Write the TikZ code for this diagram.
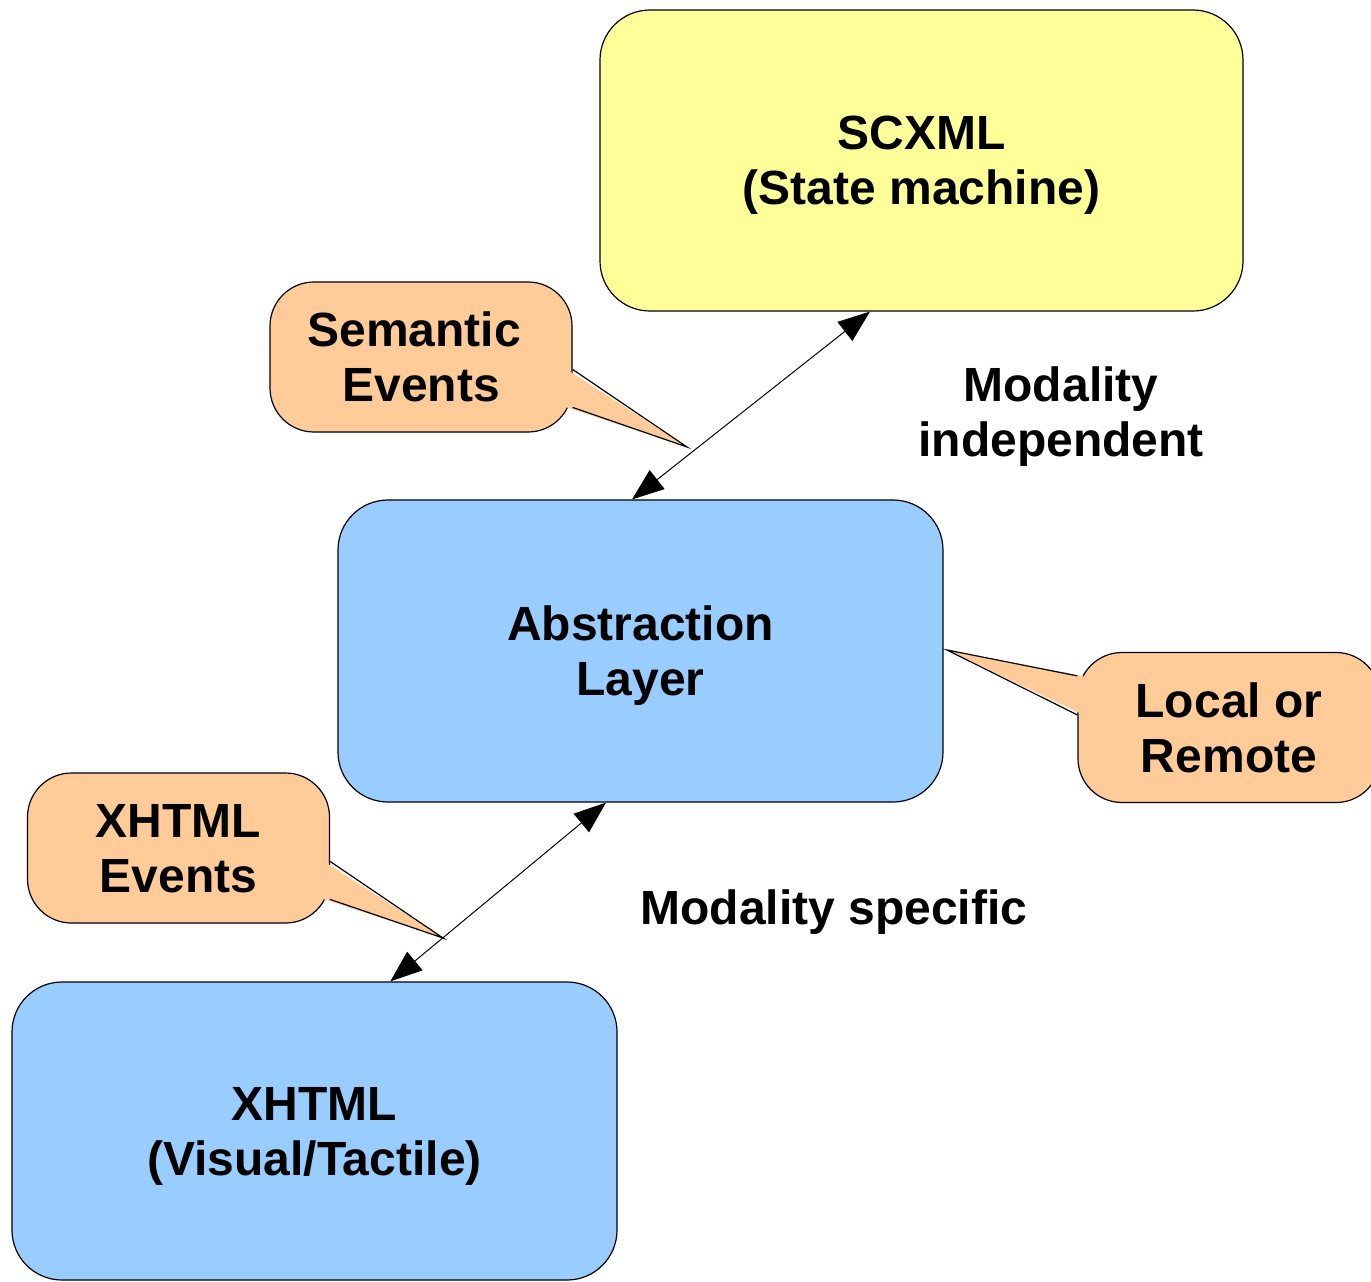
\documentclass[tikz,border=0pt]{standalone}
\usepackage{fontspec}
\setmainfont{Liberation Sans}
\usetikzlibrary{arrows.meta,calc}
\definecolor{boxyellow}{HTML}{FFFF99}
\definecolor{boxblue}{HTML}{99CCFF}
\definecolor{calloutfill}{HTML}{FFCC99}
\begin{document}
\begin{tikzpicture}[x=0.5pt,y=-0.5pt,
  lbl/.style={font=\fontsize{24}{27.5}\selectfont\bfseries, align=center, text depth=0pt},
  bigbox/.style={lbl, draw=black, line width=0.6pt, rounded corners=25pt, inner sep=0pt},
  callbox/.style={lbl, draw=black, line width=0.6pt, rounded corners=22pt, fill=calloutfill, inner sep=0pt, minimum width=151pt, minimum height=75pt},
  tailline/.style={draw=black, line width=0.6pt, line join=miter},
  link/.style={{Triangle[length=16pt,width=12pt]}-{Triangle[length=16pt,width=12pt]}, line width=0.5pt}]
\useasboundingbox (0,0) rectangle (1371,1281);
\begin{scope}
\clip (0,0) rectangle (1371,1281);
% main boxes
\node[bigbox, fill=boxyellow, minimum width=321.5pt, minimum height=150.5pt] (scxml) at (921.5,160.5) {SCXML\\(State machine)};
\node[bigbox, fill=boxblue, minimum width=302.5pt, minimum height=151pt] (abs) at (640.5,651) {Abstraction\\Layer};
\node[bigbox, fill=boxblue, minimum width=302.5pt, minimum height=149pt] (xhtml) at (314.5,1131) {XHTML\\(Visual/Tactile)};
% callouts
\node[callbox] (sem) at (421,357) {Semantic\hspace*{6.7pt}\\Events};
\node[callbox] (loc) at (1229,727.5) {Local or\\Remote};
\node[callbox] (xev) at (178.5,848) {XHTML\\Events};
% callout tails
\coordinate (semtip) at (687,447);
\fill[calloutfill] ($(sem.north east)+(-6,88)$) -- (semtip) -- ($(sem.north east)+(-6,126)$) -- cycle;
\draw[tailline] ($(sem.north east)+(0,88)$) -- (semtip) -- ($(sem.north east)+(0,126)$);
\coordinate (loctip) at (947,650);
\fill[calloutfill] ($(loc.north west)+(6,24)$) -- (loctip) -- ($(loc.north west)+(6,63)$) -- cycle;
\draw[tailline] ($(loc.north west)+(0,24)$) -- (loctip) -- ($(loc.north west)+(0,63)$);
\coordinate (xevtip) at (443,938);
\fill[calloutfill] ($(xev.north east)+(-6,89)$) -- (xevtip) -- ($(xev.north east)+(-6,127)$) -- cycle;
\draw[tailline] ($(xev.north east)+(0,89)$) -- (xevtip) -- ($(xev.north east)+(0,127)$);
% connectors
\coordinate (s1) at ($(scxml.south west)!0.42!(scxml.south east)$);
\coordinate (a1) at ($(abs.north west)!0.486!(abs.north east)$);
\coordinate (a2) at ($(abs.south west)!0.443!(abs.south east)$);
\coordinate (x1) at ($(xhtml.north west)!0.625!(xhtml.north east)$);
\draw[link] (s1) -- (a1);
\draw[link] (a2) -- (x1);
% free labels
\node[lbl] (modind) at (1061,412) {Modality\\independent};
\node[lbl] (modspec) at (834,907) {Modality specific};
\end{scope}
\end{tikzpicture}
\end{document}
